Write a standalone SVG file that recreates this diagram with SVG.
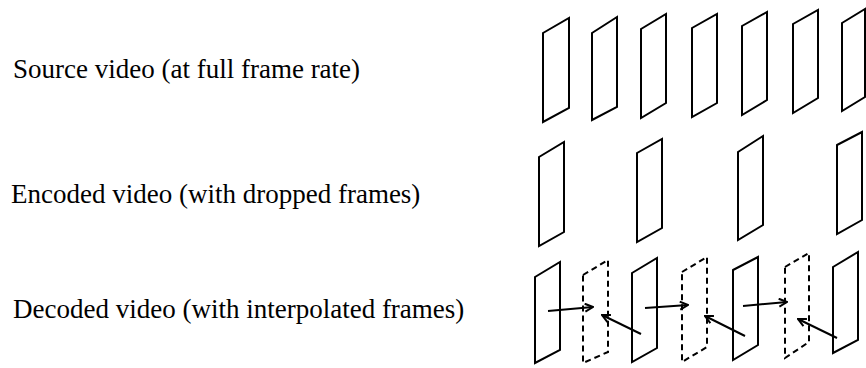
<svg xmlns="http://www.w3.org/2000/svg" width="866" height="368" viewBox="0 0 866 368">
  <style>
    .label { font-family: "Liberation Serif", "Times New Roman", serif; font-size: 27px; fill: #000; }
    .frame { fill: none; stroke: #000; stroke-width: 2; stroke-linejoin: miter; }
    .interp { fill: none; stroke: #000; stroke-width: 2; stroke-dasharray: 6 4; }
    .arrow { fill: none; stroke: #000; stroke-width: 2; marker-end: url(#head); }
  </style>
  <defs>
    <marker id="head" viewBox="0 0 10 10" refX="9" refY="5" markerWidth="10" markerHeight="10" markerUnits="userSpaceOnUse" orient="auto">
      <path d="M1,1 L9,5 L1,9" fill="none" stroke="#000" stroke-width="2"/>
    </marker>
  </defs>
  <rect width="866" height="368" fill="#fff"/>

  <!-- row labels -->
  <g id="labels">
    <text class="label" x="13" y="78">Source video (at full frame rate)</text>
    <text class="label" x="11" y="203">Encoded video (with dropped frames)</text>
    <text class="label" x="13" y="318">Decoded video (with interpolated frames)</text>
  </g>

  <!-- source video: every frame -->
  <g id="source">
    <polygon id="src1" class="frame" points="543,33 569,18 569,108 543,122"/>
    <polygon id="src2" class="frame" points="592,33 617,17 617,107 592,120"/>
    <polygon id="src3" class="frame" points="641,29 666,14 666,103 641,118"/>
    <polygon id="src4" class="frame" points="692,28 717,14 717,103 692,117"/>
    <polygon id="src5" class="frame" points="742,26 767,12 767,100 742,115"/>
    <polygon id="src6" class="frame" points="793,24 818,10 818,98 793,113"/>
    <polygon id="src7" class="frame" points="842,23 865,9 865,97 842,111"/>
  </g>

  <!-- encoded video: every other frame kept -->
  <g id="encoded">
    <polygon id="enc1" class="frame" points="539,157 564,142 564,232 539,246"/>
    <polygon id="enc2" class="frame" points="637,153 662,139 662,228 637,242"/>
    <polygon id="enc3" class="frame" points="738,152 763,136 763,225 738,240"/>
    <polygon id="enc4" class="frame" points="837,145 862,132 862,220 837,234"/>
  </g>

  <!-- decoded video: received frames plus interpolated (dashed) ones -->
  <g id="decoded">
    <polygon id="dec1" class="frame" points="535,277 560,262 560,350 535,363"/>
    <polygon id="int1" class="interp" points="583,275 608,260 608,352 583,363"/>
    <polygon id="dec2" class="frame" points="632,273 657,258 657,348 632,362"/>
    <polygon id="int2" class="interp" points="682,272 707,257 707,347 682,362"/>
    <polygon id="dec3" class="frame" points="733,270 758,257 758,345 733,360"/>
    <polygon id="int3" class="interp" points="785,267 809,253 809,342 785,358"/>
    <polygon id="dec4" class="frame" points="833,267 858,252 858,340 833,353"/>
  </g>

  <!-- interpolation arrows -->
  <g id="connectors">
    <line class="arrow" x1="548" y1="311" x2="593" y2="307"/>
    <line class="arrow" x1="645" y1="308" x2="688" y2="305"/>
    <line class="arrow" x1="743" y1="306" x2="787" y2="302"/>
    <line class="arrow" x1="641" y1="334" x2="602" y2="315"/>
    <line class="arrow" x1="745" y1="336" x2="705" y2="316"/>
    <line class="arrow" x1="837" y1="338" x2="798" y2="319"/>
  </g>
</svg>
